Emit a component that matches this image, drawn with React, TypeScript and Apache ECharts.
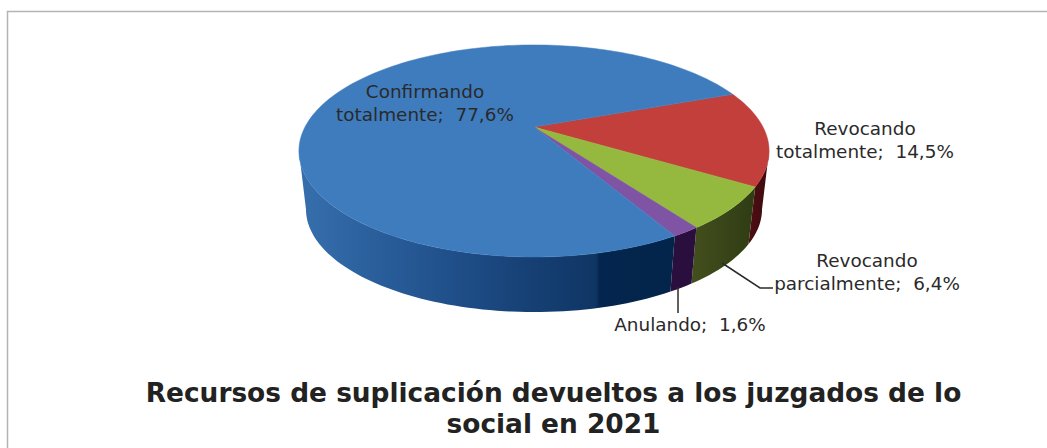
import React, { useEffect, useRef } from "react";
import * as echarts from "echarts";

const categories = ["Revocando\ntotalmente", "Revocando\nparcialmente", "Anulando", "Confirmando\ntotalmente"];
const sliceValues = [14.5, 6.4, 1.6, 77.6];
const topColors = ["#c23f3b", "#95b93f", "#7f54a5", "#3f7cbe"];
const sideColors = [
  ["#3c0b10", "#4f0e12"],
  ["#2f3c14", "#434f1c"],
  ["#2a0f3e", "#2a0f3e"],
  ["#02224a", "#356eac"],
];
const chartTitle = "Recursos de suplicación devueltos a los juzgados de lo\nsocial en 2021";

const total = sliceValues.reduce((a, b) => a + b, 0);
const START = -20.5;
const APEX = { x: 534, y: 127 };
const A = 229, B = 100.6, K = 0.226;
const BOTTOM = { x: 534, y: 186, s: 0.97 };
const LEFT_TAN = 167, RIGHT_TAN = 13;

function project(deg: number, cx = APEX.x, cy = APEX.y, s = 1): number[] {
  const t = (deg * Math.PI) / 180;
  const X = Math.cos(t), Y = Math.sin(t);
  const w = 1 - K * Y;
  return [cx + (s * A * X) / w, cy + (s * B * Y) / w];
}
function arc(a0: number, a1: number, cx?: number, cy?: number, s?: number) {
  const n = Math.max(2, Math.ceil(Math.abs(a1 - a0) / 1.5));
  const out: number[][] = [];
  for (let i = 0; i <= n; i++) out.push(project(a0 + ((a1 - a0) * i) / n, cx, cy, s));
  return out;
}
function range(idx: number): [number, number] {
  let acc = 0;
  for (let i = 0; i < idx; i++) acc += sliceValues[i];
  return [START + (acc / total) * 360, START + ((acc + sliceValues[idx]) / total) * 360];
}
const seriesData = sliceValues.map((v, i) => ({ name: categories[i], value: [v] }));

function renderTop(params: any) {
  const [a0, a1] = range(params.dataIndex);
  const pts = [[APEX.x, APEX.y], ...arc(a0, a1)];
  return { type: "polygon", shape: { points: pts }, style: { fill: topColors[params.dataIndex], stroke: topColors[params.dataIndex], lineWidth: 0.5 } };
}
function renderSide(params: any) {
  const [a0, a1] = range(params.dataIndex);
  const lo = Math.max(a0, RIGHT_TAN), hi = Math.min(a1, LEFT_TAN);
  if (hi <= lo) return { type: "group", children: [] };
  const pts = [...arc(lo, hi), ...arc(hi, lo, BOTTOM.x, BOTTOM.y, BOTTOM.s)];
  const xs = pts.map((p) => p[0]);
  const x0 = Math.min(...xs), x1 = Math.max(...xs);
  const c = sideColors[params.dataIndex];
  const idx = params.dataIndex;
  const fill = idx === 3
    ? { type: "linear", x: x1, y: 0, x2: x0, y2: 0, global: true, colorStops: [
        { offset: 0, color: "#03244a" }, { offset: 0.2, color: "#04264e" }, { offset: 0.21, color: "#0f3564" },
        { offset: 0.5, color: "#1b4880" }, { offset: 0.8, color: "#2a5f9c" }, { offset: 1, color: "#376fad" } ] }
    : { type: "linear", x: x0, y: 0, x2: x1, y2: 0, global: true, colorStops: [{ offset: 0, color: c[1] }, { offset: 1, color: c[0] }] };
  return { type: "polygon", shape: { points: pts }, style: { fill, stroke: "none" } };
}

export default function App() {
  const ref = useRef<HTMLDivElement>(null);
  useEffect(() => {
    document.body.style.margin = "0";
    const chart = echarts.init(ref.current!, null, { renderer: "svg" });
    const label = (text: string, x: number, y: number) => ({
      type: "text", x, y, z: 10,
      style: { text, x: 0, y: 0, fill: "#2a2a2a", font: '18.4px "DejaVu Sans"', align: "center", verticalAlign: "middle", lineHeight: 23 },
    });
    const fmt = (i: number) => `${categories[i]};  ${sliceValues[i].toFixed(1).replace(".", ",")}%`;
    chart.setOption({
      animation: false,
      backgroundColor: "#ffffff",
      title: {
        text: chartTitle, left: 548.5, top: 372, textAlign: "center",
        textStyle: { fontFamily: "DejaVu Sans", fontWeight: "bold", fontSize: 26.4, lineHeight: 31, color: "#222222" },
      },
      series: [
        { type: "custom", coordinateSystem: "none", renderItem: renderSide, data: seriesData, silent: true, z: 1 },
        { type: "custom", coordinateSystem: "none", renderItem: renderTop, data: seriesData, silent: true, z: 2 },
      ],
      graphic: [
        { type: "polyline", shape: { points: [[1047, 11.5], [7.5, 11.5], [7.5, 448]] }, style: { stroke: "#b4b4b4", fill: "none", lineWidth: 1.5 } },
        { type: "line", shape: { x1: 678, y1: 287, x2: 678, y2: 313 }, style: { stroke: "#2b2b2b", lineWidth: 1.5 }, z: 5 },
        { type: "polyline", shape: { points: [[722, 263], [760, 288], [773, 288]] }, style: { stroke: "#2b2b2b", fill: "none", lineWidth: 1.5 }, z: 5 },
        label(fmt(3), 425, 103),
        label(fmt(0), 865, 140),
        label(fmt(1), 867, 272),
        label(fmt(2), 690, 324),
      ],
    });
    return () => chart.dispose();
  }, []);
  return <div ref={ref} style={{ width: 1047, height: 448 }} />;
}
